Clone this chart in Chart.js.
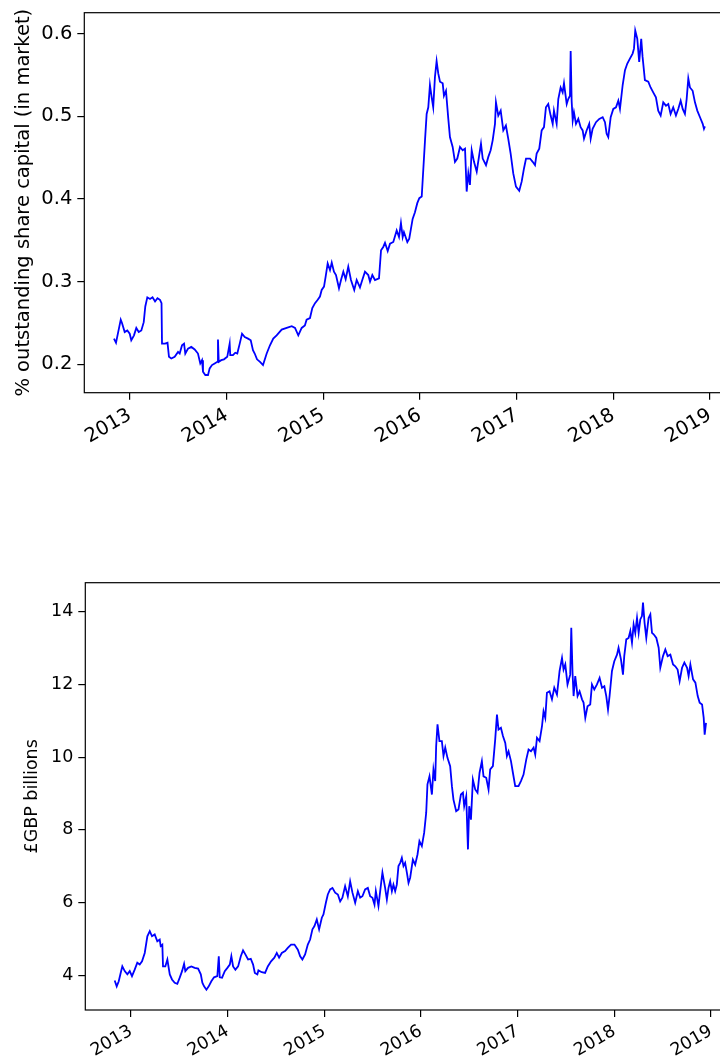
<!DOCTYPE html>
<html>
<head>
<meta charset="utf-8">
<script src="https://cdn.jsdelivr.net/npm/chart.js@4.4.1/dist/chart.umd.min.js"></script>
<style>
  html, body { margin: 0; padding: 0; background: #fff; overflow: hidden; width: 720px; height: 1056px; }
  canvas { position: absolute; left: 0; }
  #shareChart { top: 0; }
  #gbpChart { top: 570px; }
</style>
</head>
<body>
<canvas id="shareChart" width="736" height="460"></canvas>
<canvas id="gbpChart" width="737" height="486"></canvas>
<script>
// x axis shared by both panels (decimal years)
const YEAR_TICKS = [2013, 2014, 2015, 2016, 2017, 2018, 2019];
const X_MIN = 2012.527;
const X_MAX = 2019.254;

// top panel: share of outstanding capital held in the market
const SHARE_TICKS = [0.2, 0.3, 0.4, 0.5, 0.6];
const shareYears = [
  2012.834,2012.855,2012.876,2012.904,2012.917,2012.945,2012.972,2012.997,2013.013,2013.041,
  2013.065,2013.090,2013.117,2013.142,2013.158,2013.179,2013.207,2013.233,2013.259,2013.284,
  2013.310,2013.326,2013.331,2013.362,2013.388,2013.403,2013.427,2013.462,2013.497,2013.514,
  2013.538,2013.559,2013.572,2013.600,2013.634,2013.669,2013.703,2013.727,2013.745,2013.755,
  2013.779,2013.807,2013.824,2013.848,2013.876,2013.903,2013.910,2013.918,2013.944,2013.972,
  2014.006,2014.031,2014.037,2014.065,2014.089,2014.110,2014.135,2014.159,2014.187,2014.221,
  2014.249,2014.272,2014.290,2014.314,2014.345,2014.376,2014.414,2014.448,2014.482,2014.517,
  2014.569,2014.621,2014.673,2014.707,2014.741,2014.776,2014.809,2014.827,2014.862,2014.886,
  2014.914,2014.942,2014.965,2014.983,2015.007,2015.024,2015.045,2015.069,2015.087,2015.110,
  2015.131,2015.162,2015.183,2015.207,2015.231,2015.258,2015.286,2015.320,2015.345,2015.379,
  2015.403,2015.431,2015.465,2015.483,2015.507,2015.534,2015.576,2015.597,2015.620,2015.638,
  2015.666,2015.690,2015.724,2015.759,2015.783,2015.803,2015.821,2015.834,2015.869,2015.889,
  2015.924,2015.948,2015.972,2015.993,2016.018,2016.028,2016.052,2016.069,2016.086,2016.103,
  2016.121,2016.137,2016.155,2016.172,2016.189,2016.207,2016.235,2016.248,2016.269,2016.293,
  2016.310,2016.338,2016.362,2016.386,2016.414,2016.442,2016.466,2016.483,2016.500,2016.517,
  2016.535,2016.559,2016.587,2016.610,2016.631,2016.649,2016.683,2016.707,2016.731,2016.752,
  2016.776,2016.786,2016.810,2016.835,2016.862,2016.889,2016.913,2016.938,2016.965,2016.993,
  2017.027,2017.052,2017.076,2017.097,2017.138,2017.166,2017.190,2017.207,2017.234,2017.259,
  2017.283,2017.303,2017.327,2017.352,2017.373,2017.386,2017.414,2017.431,2017.455,2017.476,
  2017.490,2017.518,2017.534,2017.552,2017.559,2017.569,2017.580,2017.593,2017.614,2017.638,
  2017.662,2017.683,2017.697,2017.724,2017.751,2017.766,2017.786,2017.821,2017.855,2017.890,
  2017.914,2017.931,2017.948,2017.973,2018.000,2018.028,2018.052,2018.069,2018.097,2018.121,
  2018.145,2018.172,2018.200,2018.214,2018.227,2018.248,2018.268,2018.289,2018.303,2018.327,
  2018.362,2018.386,2018.413,2018.441,2018.465,2018.490,2018.517,2018.545,2018.569,2018.593,
  2018.620,2018.648,2018.672,2018.697,2018.718,2018.741,2018.759,2018.776,2018.793,2018.821,
  2018.845,2018.869,2018.897,2018.925,2018.938,2018.948
];
const shareValues = [
  0.231,0.226,0.238,0.254,0.250,0.239,0.241,0.237,0.229,0.235,
  0.244,0.239,0.241,0.251,0.270,0.281,0.279,0.281,0.276,0.280,
  0.278,0.274,0.225,0.225,0.226,0.209,0.207,0.209,0.215,0.213,
  0.223,0.225,0.213,0.219,0.221,0.218,0.213,0.201,0.205,0.191,
  0.187,0.187,0.195,0.199,0.201,0.203,0.230,0.203,0.205,0.206,
  0.209,0.225,0.211,0.211,0.214,0.213,0.225,0.237,0.233,0.231,
  0.229,0.217,0.213,0.206,0.203,0.199,0.213,0.223,0.231,0.235,
  0.242,0.244,0.246,0.244,0.235,0.244,0.247,0.254,0.256,0.268,
  0.274,0.278,0.282,0.290,0.294,0.306,0.322,0.314,0.323,0.312,
  0.308,0.292,0.302,0.312,0.303,0.318,0.302,0.290,0.302,0.293,
  0.302,0.312,0.308,0.300,0.308,0.302,0.304,0.338,0.342,0.347,
  0.337,0.346,0.348,0.362,0.354,0.371,0.354,0.360,0.348,0.352,
  0.376,0.384,0.395,0.401,0.403,0.423,0.471,0.503,0.511,0.538,
  0.523,0.511,0.548,0.567,0.552,0.542,0.540,0.525,0.531,0.497,
  0.475,0.463,0.445,0.449,0.463,0.459,0.461,0.409,0.431,0.417,
  0.459,0.445,0.433,0.451,0.467,0.449,0.441,0.451,0.459,0.471,
  0.491,0.517,0.501,0.507,0.483,0.489,0.473,0.455,0.431,0.415,
  0.410,0.421,0.437,0.449,0.449,0.445,0.441,0.455,0.461,0.483,
  0.487,0.511,0.515,0.501,0.491,0.507,0.491,0.521,0.535,0.529,
  0.540,0.515,0.521,0.525,0.579,0.519,0.495,0.505,0.491,0.497,
  0.487,0.483,0.473,0.483,0.491,0.473,0.485,0.493,0.497,0.499,
  0.493,0.479,0.475,0.499,0.509,0.511,0.519,0.509,0.538,0.556,
  0.564,0.570,0.576,0.582,0.604,0.594,0.566,0.594,0.572,0.544,
  0.542,0.535,0.529,0.523,0.507,0.501,0.517,0.513,0.515,0.503,
  0.511,0.501,0.509,0.519,0.509,0.503,0.521,0.546,0.535,0.531,
  0.517,0.507,0.499,0.491,0.485,0.488
];

// bottom panel: market value in GBP billions
const GBP_TICKS = [4, 6, 8, 10, 12, 14];
const gbpYears = [
  2012.831,2012.852,2012.873,2012.893,2012.910,2012.935,2012.962,2012.987,2013.010,2013.038,
  2013.065,2013.090,2013.114,2013.142,2013.169,2013.194,2013.217,2013.245,2013.272,2013.297,
  2013.307,2013.324,2013.331,2013.355,2013.376,2013.401,2013.424,2013.452,2013.479,2013.504,
  2013.528,2013.549,2013.562,2013.590,2013.624,2013.659,2013.694,2013.722,2013.738,2013.756,
  2013.780,2013.804,2013.831,2013.859,2013.893,2013.908,2013.918,2013.942,2013.970,2013.997,
  2014.022,2014.038,2014.056,2014.080,2014.108,2014.136,2014.159,2014.183,2014.211,2014.239,
  2014.263,2014.281,2014.307,2014.318,2014.353,2014.387,2014.415,2014.449,2014.483,2014.508,
  2014.532,2014.560,2014.594,2014.622,2014.656,2014.691,2014.726,2014.750,2014.773,2014.801,
  2014.829,2014.853,2014.877,2014.898,2014.922,2014.946,2014.974,2014.991,2015.016,2015.036,
  2015.060,2015.084,2015.112,2015.140,2015.164,2015.187,2015.215,2015.243,2015.267,2015.291,
  2015.319,2015.347,2015.371,2015.394,2015.422,2015.450,2015.474,2015.498,2015.519,2015.533,
  2015.560,2015.588,2015.601,2015.629,2015.647,2015.664,2015.681,2015.699,2015.715,2015.733,
  2015.750,2015.767,2015.785,2015.802,2015.819,2015.836,2015.854,2015.871,2015.888,2015.916,
  2015.940,2015.964,2015.984,2016.009,2016.033,2016.054,2016.067,2016.088,2016.113,2016.129,
  2016.147,2016.157,2016.171,2016.191,2016.216,2016.233,2016.251,2016.274,2016.302,2016.320,
  2016.336,2016.364,2016.388,2016.413,2016.434,2016.447,2016.468,2016.486,2016.499,2016.517,
  2016.537,2016.561,2016.585,2016.606,2016.630,2016.647,2016.675,2016.699,2016.716,2016.744,
  2016.768,2016.786,2016.802,2016.827,2016.848,2016.872,2016.889,2016.906,2016.931,2016.951,
  2016.975,2017.009,2017.034,2017.061,2017.089,2017.113,2017.138,2017.165,2017.182,2017.200,
  2017.227,2017.252,2017.268,2017.286,2017.303,2017.330,2017.355,2017.379,2017.407,2017.434,
  2017.459,2017.475,2017.493,2017.516,2017.544,2017.555,2017.568,2017.579,2017.596,2017.620,
  2017.641,2017.666,2017.682,2017.700,2017.723,2017.751,2017.769,2017.793,2017.821,2017.848,
  2017.873,2017.897,2017.917,2017.935,2017.951,2017.976,2018.000,2018.028,2018.044,2018.069,
  2018.090,2018.103,2018.124,2018.148,2018.166,2018.183,2018.200,2018.217,2018.235,2018.252,
  2018.269,2018.286,2018.297,2018.313,2018.331,2018.355,2018.373,2018.390,2018.407,2018.435,
  2018.459,2018.476,2018.504,2018.528,2018.552,2018.580,2018.608,2018.631,2018.655,2018.676,
  2018.701,2018.725,2018.753,2018.769,2018.787,2018.815,2018.839,2018.863,2018.883,2018.908,
  2018.925,2018.935,2018.949
];
const gbpValues = [
  3.85,3.69,3.83,4.06,4.24,4.11,4.02,4.11,3.97,4.15,
  4.34,4.29,4.38,4.61,5.07,5.21,5.07,5.12,4.93,4.98,
  4.80,4.84,4.24,4.24,4.43,4.02,3.88,3.79,3.76,3.93,
  4.11,4.31,4.11,4.20,4.24,4.20,4.18,4.02,3.79,3.69,
  3.60,3.69,3.83,3.94,3.97,4.52,3.94,3.93,4.11,4.20,
  4.29,4.52,4.24,4.15,4.24,4.52,4.68,4.57,4.43,4.45,
  4.29,4.06,4.02,4.13,4.08,4.06,4.24,4.38,4.48,4.61,
  4.48,4.61,4.66,4.75,4.84,4.84,4.70,4.52,4.43,4.57,
  4.84,4.98,5.26,5.35,5.53,5.26,5.58,5.67,5.99,6.22,
  6.36,6.40,6.27,6.22,6.03,6.13,6.45,6.17,6.58,6.27,
  5.99,6.31,6.13,6.17,6.36,6.40,6.17,6.13,5.94,6.31,
  5.90,6.54,6.82,6.40,6.08,6.40,6.58,6.31,6.49,6.31,
  6.49,7.00,7.09,7.23,7.00,7.09,6.82,6.54,6.68,7.18,
  7.04,7.32,7.69,7.55,7.92,8.47,9.25,9.47,8.97,9.66,
  9.34,10.30,10.90,10.44,10.44,10.03,10.26,9.98,9.75,9.20,
  8.83,8.51,8.56,8.97,9.02,8.65,8.92,7.46,8.65,8.28,
  9.38,9.11,9.02,9.57,9.89,9.47,9.43,9.11,9.66,9.75,
  10.49,11.17,10.76,10.81,10.58,10.39,10.03,10.16,9.89,9.57,
  9.20,9.20,9.34,9.52,9.93,10.21,10.16,10.26,10.07,10.53,
  10.44,10.85,11.26,11.08,11.77,11.81,11.59,11.91,11.72,12.37,
  12.73,12.41,12.55,12.00,12.27,13.56,12.32,11.68,12.23,11.68,
  11.81,11.59,11.50,11.08,11.40,11.45,12.00,11.86,12.00,12.18,
  11.91,11.95,11.68,11.31,11.68,12.37,12.64,12.82,13.01,12.69,
  12.27,12.78,13.24,13.28,13.47,13.15,13.65,13.42,13.83,13.42,
  13.79,13.88,14.25,13.70,13.28,13.83,13.93,13.42,13.38,13.28,
  13.01,12.46,12.78,12.96,12.78,12.82,12.55,12.50,12.41,12.09,
  12.46,12.60,12.46,12.23,12.55,12.14,12.05,11.68,11.50,11.45,
  11.08,10.62,10.94
];

const FONT = 'DejaVu Sans';

// matplotlib-like closed box around the plot area
const framePlugin = {
  id: 'frame',
  afterDraw(chart) {
    const { ctx, chartArea: a } = chart;
    ctx.save();
    ctx.strokeStyle = '#000';
    ctx.lineWidth = 1.2;
    ctx.strokeRect(a.left, a.top, a.right - a.left, a.bottom - a.top);
    ctx.restore();
  }
};

function makePanel(canvasId, o) {
  const points = o.xs.map((x, i) => ({ x: x, y: o.ys[i] }));
  const tickGrid = { drawOnChartArea: false, drawTicks: true, tickLength: 7, color: '#000', lineWidth: 1.2 };
  return new Chart(document.getElementById(canvasId), {
    type: 'line',
    data: {
      datasets: [{
        data: points,
        borderColor: '#0000ff',
        borderWidth: 1.8,
        pointRadius: 0,
        tension: 0,
        fill: false
      }]
    },
    options: {
      responsive: false,
      animation: false,
      events: [],
      layout: { padding: { top: 12.7, right: 1.5, left: 0, bottom: 0 } },
      plugins: { legend: { display: false }, tooltip: { enabled: false } },
      scales: {
        x: {
          type: 'linear',
          min: X_MIN,
          max: X_MAX,
          afterBuildTicks: (s) => { s.ticks = YEAR_TICKS.map(v => ({ value: v })); },
          afterFit: (s) => {
            s.height = o.xAxisHeight;
            s.paddingLeft = 0;
            s.paddingRight = 0;
          },
          ticks: {
            autoSkip: false,
            minRotation: 30,
            maxRotation: 30,
            padding: 4,
            color: '#000',
            font: { family: FONT, size: o.fontSize },
            callback: (v) => String(v)
          },
          grid: tickGrid,
          border: { display: false }
        },
        y: {
          min: o.yMin,
          max: o.yMax,
          afterBuildTicks: (s) => { s.ticks = o.yTicks.map(v => ({ value: v })); },
          afterFit: (s) => {
            s.width = o.yAxisWidth;
            // ticks sit well inside the axis, no overflow room needed
            s.paddingTop = 0;
            s.paddingBottom = 0;
          },
          ticks: {
            padding: 5,
            color: '#000',
            font: { family: FONT, size: o.fontSize },
            callback: o.yFormat
          },
          grid: tickGrid,
          border: { display: false },
          title: {
            display: true,
            text: o.yTitle,
            color: '#000',
            font: { family: FONT, size: o.titleSize },
            padding: { top: o.titlePad, bottom: 0 }
          }
        }
      }
    },
    plugins: [framePlugin]
  });
}

makePanel('shareChart', {
  xs: shareYears, ys: shareValues,
  yMin: 0.1656, yMax: 0.6255, yTicks: SHARE_TICKS,
  yFormat: (v) => v.toFixed(1),
  yTitle: '% outstanding share capital (in market)',
  fontSize: 19.5, titleSize: 19.5, titlePad: 12,
  yAxisWidth: 84.3, xAxisHeight: 67.3
});

makePanel('gbpChart', {
  xs: gbpYears, ys: gbpValues,
  yMin: 3.04, yMax: 14.8, yTicks: GBP_TICKS,
  yFormat: (v) => String(v),
  yTitle: '£GBP billions',
  fontSize: 17.5, titleSize: 17.5, titlePad: 22,
  yAxisWidth: 85.3, xAxisHeight: 46
});
</script>
</body>
</html>
